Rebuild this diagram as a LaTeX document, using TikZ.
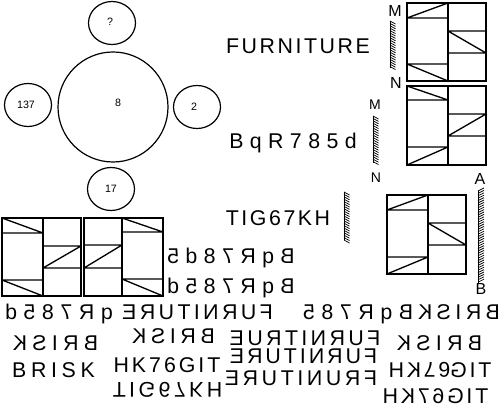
\documentclass[tikz,border=0pt]{standalone}
\usepackage{fontspec}
\usepackage{graphicx}
\setmainfont{Liberation Sans}
\usetikzlibrary{positioning,shapes.geometric}

\tikzset{
  ring/.style={draw,ellipse,line width=0.9pt,inner sep=0pt},
  moon/.style={ring,minimum width=35.25pt,minimum height=32.25pt},
  word/.style={inner sep=0pt,text height=11.4pt,text depth=0pt,font=\fontsize{16}{16}\selectfont},
  tag/.style={inner sep=0pt,font=\fontsize{8}{8}\selectfont},
  letter/.style={inner sep=0pt,font=\fontsize{12}{12}\selectfont},
  small letter/.style={inner sep=0pt,font=\fontsize{10.5}{10.5}\selectfont},
  xflip/.style={word,xscale=-1},
  yflip/.style={word,yscale=-1},
  grid line/.style={line width=1pt},
  hatch line/.style={line width=0.55pt}
}

% spaced letters
\newcommand{\spc}[2]{{\addfontfeature{LetterSpace=#1}#2}}
% glyph turned upside down about its own middle
\newcommand{\turnup}[1]{\raisebox{\depth}{\scalebox{1}[-1]{#1}}\kern0.13em}
% hatched bar: left, right, top, bottom, rise of a stroke
\newcommand{\hatchbar}[5]{%
\draw[hatch line] (#1,#3) -- (#1,#4);
\pgfmathsetmacro{\nxt}{#3+2.4}
\foreach \yy in {#3,\nxt,...,#4} \draw[hatch line] (#1,\yy) -- (#2,\yy+#5);
}

\begin{document}
\begin{tikzpicture}[x=0.75pt,y=-0.75pt]
\useasboundingbox (0,0) rectangle (504,409);

% circles
\node[ring,minimum width=82.5pt,minimum height=82.5pt] (big) at (113,107) {};
\node[tag] (bigt) at (118,103) {8};
\node[moon] (top) at (112,23) {};
\node[tag] (topt) at (110,22) {?};
\node[moon] (lft) at (28,105) {};
\node[tag] (lftt) at (26,105) {137};
\node[moon] (rgt) at (197,107) {};
\node[tag] (rgtt) at (194,107) {2};
\node[moon] (bot) at (111,189) {};
\node[tag] (bott) at (111,189) {17};

% top box
\draw[grid line] (407,3) rectangle (486,81);
\draw[grid line] (448,3) -- (448,81);
\draw[grid line] (407,18) -- (448,18) (407,18) -- (448,3);
\draw[grid line] (407,64) -- (448,64) (407,64) -- (448,81);
\draw[grid line] (448,31) -- (486,31) (448,53) -- (486,53) (448,31) -- (486,53);

% second box
\draw[grid line] (407,86) rectangle (486,165);
\draw[grid line] (448,86) -- (448,165);
\draw[grid line] (407,100) -- (448,100) (407,86) -- (448,100);
\draw[grid line] (407,147) -- (448,147) (407,165) -- (448,147);
\draw[grid line] (448,114) -- (486,114) (448,136) -- (486,136) (448,136) -- (486,114);

% third box
\draw[grid line] (387,195) rectangle (466,274);
\draw[grid line] (428,195) -- (428,274);
\draw[grid line] (387,210) -- (428,210) (387,210) -- (428,195);
\draw[grid line] (387,257) -- (428,257) (387,274) -- (428,257);
\draw[grid line] (428,223) -- (466,223) (428,245) -- (466,245) (428,223) -- (466,245);

% left pair
\draw[grid line] (2,218) rectangle (81,296);
\draw[grid line] (43,218) -- (43,296);
\draw[grid line] (2,233) -- (43,233) (2,218) -- (43,233);
\draw[grid line] (2,280) -- (43,280) (2,280) -- (43,296);
\draw[grid line] (43,246) -- (81,246) (43,268) -- (81,268) (43,268) -- (81,246);
\draw[grid line] (84,218) rectangle (163,296);
\draw[grid line] (122,218) -- (122,296);
\draw[grid line] (122,232) -- (163,232) (122,218) -- (163,232);
\draw[grid line] (122,279) -- (163,279) (122,279) -- (163,296);
\draw[grid line] (84,245) -- (122,245) (84,268) -- (122,268) (84,268) -- (122,245);

% hatched bars
\hatchbar{390}{395.5}{21}{68}{3}
\hatchbar{373}{378.5}{116}{163}{3}
\hatchbar{344}{349.5}{192}{240}{3}
\hatchbar{478}{484}{191}{283}{-3}

% bar letters
\node[letter] (m1) at (395,11) {M};
\node[letter] (n1) at (396,83) {N};
\node[small letter] (m2) at (375,105) {M};
\node[small letter] (n2) at (376,178) {N};
\node[letter] (a1) at (480,179) {A};
\node[letter] (b1) at (481,289) {B};

% upright words
\node[word] (fu) at (298,46) {\spc{12}{FURNITURE}};
\node[word] (bq) at (293,141) {\spc{30}{BqR785d}};
\node[word] (ti) at (278,218) {\spc{12}{TIG67KH}};
\node[word] (br) at (53.5,370) {\spc{22}{BRISK}};
\node[word] (hk) at (167,365) {\spc{14}{HK76GIT}};

% mirrored words
\node[xflip] (r1) at (231,255.5) {\spc{30}{BqR78d5}};
\node[xflip] (r2) at (231,285.5) {\spc{30}{BqR785d}};
\node[xflip] (s1) at (59,312) {\spc{31}{qR785d}};
\node[xflip] (s2) at (197.5,312) {\spc{16}{FURNITURE}};
\node[xflip] (s3) at (358,312) {\spc{31}{BqR785}};
\node[xflip] (s4) at (459,312) {\spc{21}{BRISK}};
\node[xflip] (b2) at (55.5,342.5) {\spc{25}{BRISK}};
\node[xflip] (b3) at (173.5,335.5) {\spc{22}{BRISK}};
\node[yflip] (t1) at (167.5,390) {\spc{16}{TIG67KH}};
\node[xflip] (f1) at (305,337.5) {\spc{16}{FURNITRUE}};
\node[xflip] (f2) at (303.5,356) {\spc{14}{FURNITURE}};
\node[xflip] (f3) at (301,377.5) {\spc{17}{FRUNITURE}};
\node[xflip] (b4) at (439.5,342.5) {\spc{25}{BRISK}};
\node[xflip] (t2) at (440,369.5) {\spc{13}{TIG\turnup{6}\turnup{7}KH}};
\node[xflip] (t3) at (435.5,395.5) {\spc{13}{TIG67KH}};
\end{tikzpicture}
\end{document}
